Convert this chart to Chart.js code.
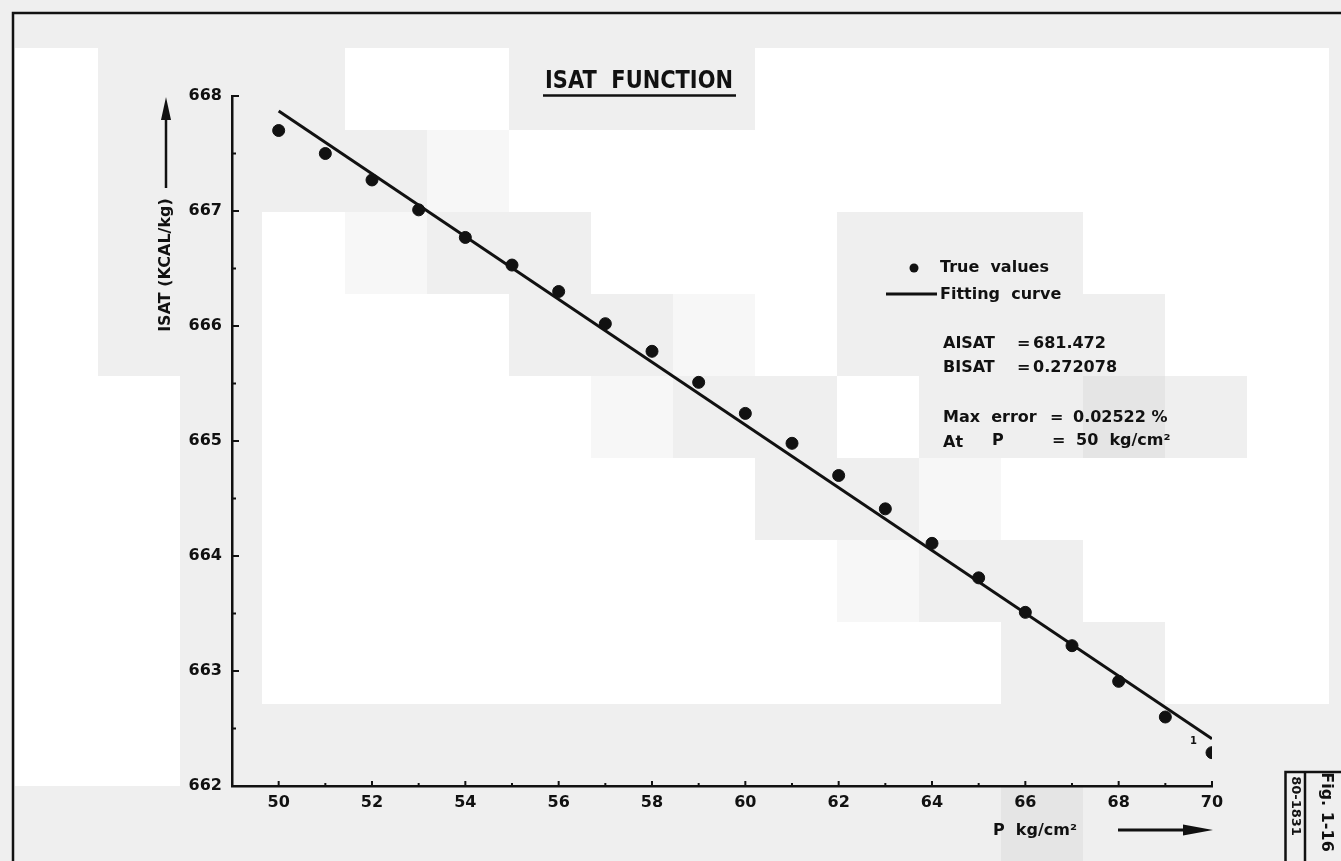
<!DOCTYPE html>
<html><head><meta charset="utf-8">
<script src="https://cdn.jsdelivr.net/npm/chart.js@4/dist/chart.umd.min.js"></script>
<style>html,body{margin:0;padding:0;background:#efefef;overflow:hidden}#wrap{width:1341px;height:861px;position:relative}</style>
</head><body><div id="wrap"><canvas id="c" width="1341" height="861"></canvas></div>
<script>
// ---- data ----
const pressure   = [50,51,52,53,54,55,56,57,58,59,60,61,62,63,64,65,66,67,68,69,70];
const trueValues = [667.70,667.50,667.27,667.01,666.77,666.53,666.30,666.02,665.78,665.51,665.24,
                    664.98,664.70,664.41,664.11,663.81,663.51,663.22,662.91,662.60,662.29];
const fitPressure = [50,70];
const fitValues   = [667.87,662.41];
const titleText = 'ISAT  FUNCTION';
const yTitle = 'ISAT (KCAL/kg)';
const xTitle = 'P  kg/cm²';
const legendLabels = ['True  values','Fitting  curve'];
const noteLines = [['AISAT','=','681.472'],['BISAT','=','0.272078'],['Max  error','=','0.02522 %'],['At','P','=','50  kg/cm²']];
const figLabel = 'Fig. 1-16';
const figCode = '80-1831';

const FONT = "'DejaVu Sans', 'Liberation Sans', sans-serif";
const INK = '#111';

// decorative background tiles (scan artefacts), grid of ~82px cells
const GX = [15,98,180,262,345,427,509,591,673,755,837,919,1001,1083,1165,1247,1329,1341];
const WHITE='#ffffff', GREY='#efefef', LIGHT='#f7f7f7', DARK='#e5e5e5';
const bgRows = [
  [48,130,[[0,1,WHITE],[4,6,WHITE],[9,16,WHITE]]],
  [130,212,[[0,1,WHITE],[5,6,LIGHT],[6,16,WHITE]]],
  [212,294,[[0,1,WHITE],[3,4,WHITE],[4,5,LIGHT],[7,10,WHITE],[13,16,WHITE]]],
  [294,376,[[0,1,WHITE],[3,6,WHITE],[8,9,LIGHT],[9,10,WHITE],[14,16,WHITE]]],
  [376,458,[[0,2,WHITE],[3,7,WHITE],[7,8,LIGHT],[10,11,WHITE],[13,14,DARK],[15,16,WHITE]]],
  [458,540,[[0,2,WHITE],[3,9,WHITE],[11,12,LIGHT],[12,16,WHITE]]],
  [540,622,[[0,2,WHITE],[3,10,WHITE],[10,11,LIGHT],[13,16,WHITE]]],
  [622,704,[[0,2,WHITE],[3,12,WHITE],[14,16,WHITE]]],
  [704,786,[[0,2,WHITE]]],
  [786,861,[[12,13,DARK]]]
];

const bgPlugin = {
  id:'bg',
  beforeDraw(chart){
    const ctx = chart.ctx;
    ctx.save();
    ctx.fillStyle = GREY; ctx.fillRect(0,0,chart.width,chart.height);
    for (const [y0,y1,cells] of bgRows){
      for (const [a,b,col] of cells){ ctx.fillStyle = col; ctx.fillRect(GX[a],y0,GX[b]-GX[a],y1-y0); }
    }
    ctx.strokeStyle = INK; ctx.lineWidth = 2.5;
    ctx.beginPath(); ctx.moveTo(13,861); ctx.lineTo(13,13); ctx.lineTo(1341,13); ctx.stroke();
    ctx.restore();
  }
};

const decoPlugin = {
  id:'deco',
  afterDraw(chart){
    const ctx = chart.ctx, xs = chart.scales.x, ys = chart.scales.y;
    ctx.save();
    ctx.strokeStyle = INK; ctx.fillStyle = INK; ctx.lineCap='butt';
    ctx.lineWidth = 2;
    const left = chart.chartArea.left, bottom = chart.chartArea.bottom;
    ys.ticks.forEach(t=>{
      const py = ys.getPixelForValue(t.value);
      const len = Number.isInteger(t.value) ? 7 : 4;
      ctx.beginPath(); ctx.moveTo(left,py); ctx.lineTo(left+len,py); ctx.stroke();
    });
    xs.ticks.forEach(t=>{
      const px = xs.getPixelForValue(t.value);
      const len = (t.value % 2 === 0) ? 5 : 3;
      ctx.beginPath(); ctx.moveTo(px,bottom); ctx.lineTo(px,bottom-len); ctx.stroke();
    });

    // title (compressed lettering)
    ctx.save();
    ctx.font = 'bold 25px ' + FONT;
    ctx.textBaseline = 'alphabetic'; ctx.textAlign = 'left';
    const tw = ctx.measureText(titleText).width;
    const sx = 188 / tw;
    ctx.translate(545, 88); ctx.scale(sx, 1);
    ctx.fillText(titleText, 0, 0);
    ctx.restore();
    ctx.lineWidth = 2.5;
    ctx.beginPath(); ctx.moveTo(543,95.5); ctx.lineTo(736,95.5); ctx.stroke();

    // y axis title + arrow
    ctx.save();
    ctx.translate(166, 265); ctx.rotate(-Math.PI/2);
    ctx.font = 'bold 16px ' + FONT; ctx.textAlign='center'; ctx.textBaseline='middle';
    ctx.fillText(yTitle, 0, 0);
    ctx.restore();
    ctx.lineWidth = 2.5;
    ctx.beginPath(); ctx.moveTo(166,188); ctx.lineTo(166,114); ctx.stroke();
    ctx.beginPath(); ctx.moveTo(166,97); ctx.lineTo(161,120); ctx.lineTo(171,120); ctx.closePath(); ctx.fill();

    // x axis title + arrow
    ctx.font = 'bold 16px ' + FONT; ctx.textAlign='left'; ctx.textBaseline='middle';
    ctx.fillText(xTitle, 993, 831);
    ctx.lineWidth = 3;
    ctx.beginPath(); ctx.moveTo(1118,830); ctx.lineTo(1188,830); ctx.stroke();
    ctx.beginPath(); ctx.moveTo(1213,830); ctx.lineTo(1183,824.5); ctx.lineTo(1183,835.5); ctx.closePath(); ctx.fill();

    // legend
    const ds0 = chart.data.datasets[0], ds1 = chart.data.datasets[1];
    ctx.fillStyle = ds0.backgroundColor;
    ctx.beginPath(); ctx.arc(914,268,4.5,0,Math.PI*2); ctx.fill();
    ctx.strokeStyle = ds1.borderColor; ctx.lineWidth = ds1.borderWidth;
    ctx.beginPath(); ctx.moveTo(886,294); ctx.lineTo(937,294); ctx.stroke();
    ctx.fillStyle = INK;
    ctx.font = 'bold 16px ' + FONT; ctx.textBaseline='middle'; ctx.textAlign='left';
    ctx.fillText(legendLabels[0], 940, 268);
    ctx.fillText(legendLabels[1], 940, 295);

    // notes
    ctx.fillText(noteLines[0][0], 943, 344); ctx.fillText(noteLines[0][1], 1017, 344); ctx.fillText(noteLines[0][2], 1033, 344);
    ctx.fillText(noteLines[1][0], 943, 368); ctx.fillText(noteLines[1][1], 1017, 368); ctx.fillText(noteLines[1][2], 1033, 368);
    ctx.fillText(noteLines[2][0], 943, 418); ctx.fillText(noteLines[2][1], 1050, 418); ctx.fillText(noteLines[2][2], 1073, 418);
    ctx.fillText(noteLines[3][0], 943, 443); ctx.fillText(noteLines[3][1], 992, 441); ctx.fillText(noteLines[3][2], 1052, 441); ctx.fillText(noteLines[3][3], 1076, 441);

    ctx.font = 'bold 10px ' + FONT;
    ctx.fillText('1', 1190, 741);

    // figure label block
    ctx.strokeStyle = INK; ctx.lineWidth = 2.5;
    ctx.beginPath(); ctx.moveTo(1285.5,861); ctx.lineTo(1285.5,772); ctx.lineTo(1341,772); ctx.stroke();
    ctx.beginPath(); ctx.moveTo(1305,772); ctx.lineTo(1305,861); ctx.stroke();
    ctx.save();
    ctx.translate(1326, 812); ctx.rotate(Math.PI/2);
    ctx.font = 'bold 16px ' + FONT; ctx.textAlign='center'; ctx.textBaseline='middle';
    ctx.fillText(figLabel, 0, 0);
    ctx.restore();
    ctx.save();
    ctx.translate(1295, 806); ctx.rotate(Math.PI/2);
    ctx.font = 'bold 13px ' + FONT; ctx.textAlign='center'; ctx.textBaseline='middle';
    ctx.fillText(figCode, 0, 0);
    ctx.restore();

    ctx.restore();
  }
};

new Chart(document.getElementById('c'), {
  type: 'scatter',
  data: {
    datasets: [
      { label: legendLabels[0], data: pressure.map((p,i)=>({x:p, y:trueValues[i]})),
        backgroundColor: INK, borderColor: INK, pointRadius: 6, pointHoverRadius: 6, order: 0 },
      { label: legendLabels[1], data: fitPressure.map((p,i)=>({x:p, y:fitValues[i]})),
        showLine: true, borderColor: INK, borderWidth: 3, pointRadius: 0, fill: false, order: 1 }
    ]
  },
  options: {
    responsive: false, animation: false, devicePixelRatio: 1,
    layout: { padding: { left: 0, top: 96, right: 129, bottom: 0 } },
    plugins: { legend: { display: false }, tooltip: { enabled: false }, title: { display: false } },
    scales: {
      x: {
        type: 'linear', min: 49, max: 70,
        afterFit: s => { s.height = 75; },
        grid: { display: false, drawTicks: false },
        border: { display: true, color: INK, width: 2.5 },
        ticks: { stepSize: 1, autoSkip: false, maxRotation: 0, padding: 7, color: INK,
                 font: { family: FONT, size: 16, weight: 'bold' },
                 callback: v => (v % 2 === 0 ? String(v) : '') }
      },
      y: {
        type: 'linear', min: 662, max: 668,
        afterFit: s => { s.width = 232; },
        grid: { display: false, drawTicks: false },
        border: { display: true, color: INK, width: 2.5 },
        ticks: { stepSize: 0.5, autoSkip: false, padding: 10, color: INK,
                 font: { family: FONT, size: 16, weight: 'bold' },
                 callback: v => (Number.isInteger(v) ? String(v) : '') }
      }
    }
  },
  plugins: [bgPlugin, decoPlugin]
});
</script></body></html>
